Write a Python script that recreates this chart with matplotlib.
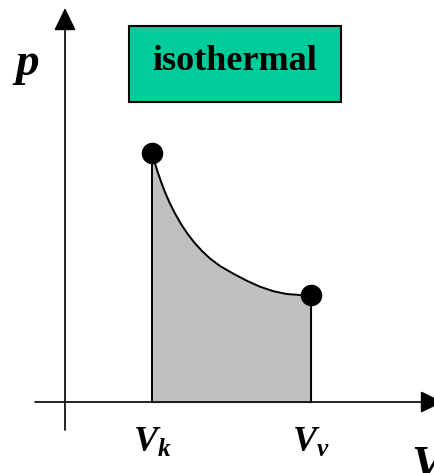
import matplotlib
matplotlib.use("Agg")
import matplotlib.pyplot as plt
from matplotlib.patches import FancyArrowPatch, Rectangle

# Isothermal curve (V, p) in arbitrary units
curve_V = [87, 90.3, 93, 96.3, 99.7, 104.7, 109.7, 116.3, 123, 129.7, 137, 145,
           155, 168, 181.7, 195, 208.3, 221.7, 235, 246]
curve_p = [249, 237.5, 229, 219.5, 210.5, 199, 189, 177.5, 167.5, 159, 151, 143.5,
           136, 128.5, 121.3, 115.3, 110.8, 108, 107, 107]
V_k, V_v = 87, 246
p_k, p_v = 249, 107
state_labels = [r"$\boldsymbol{V_k}$", r"$\boldsymbol{V_v}$"]
title_text = "isothermal"

plt.rcParams['mathtext.fontset'] = 'custom'
plt.rcParams['mathtext.it'] = 'Liberation Serif:italic:bold'
plt.rcParams['mathtext.bf'] = 'Liberation Serif:italic:bold'
plt.rcParams['mathtext.rm'] = 'Liberation Serif:bold'

fig = plt.figure(figsize=(4.35, 4.73), dpi=100)
ax = fig.add_axes([0, 0, 1, 1])
ax.set_xlim(-65, 370)
ax.set_ylim(-71, 402)
ax.axis('off')

# shaded work area
ax.fill_between(curve_V, curve_p, 0, color='#C0C0C0', zorder=1)
ax.plot(curve_V, curve_p, color='black', lw=1.4, zorder=3, solid_joinstyle='round')
ax.plot([V_k, V_k], [0, p_k], color='black', lw=1.4, zorder=3)
ax.plot([V_v, V_v], [0, p_v], color='black', lw=1.4, zorder=3)
ax.plot([V_k, V_v], [p_k, p_v], 'o', color='black', ms=14.5, zorder=4)

# axes with arrows
ya = FancyArrowPatch((0, -28), (0, 394), arrowstyle='-|>,head_length=14,head_width=6.8',
                     mutation_scale=1, shrinkA=0, shrinkB=0, color='black', lw=1.2, zorder=2)
xa = FancyArrowPatch((-30, 0), (378, 0), arrowstyle='-|>,head_length=14,head_width=6.8',
                     mutation_scale=1, shrinkA=0, shrinkB=0, color='black', lw=1.2, zorder=2)
ax.add_patch(ya)
ax.add_patch(xa)

# title box
ax.add_patch(Rectangle((64, 300), 212, 76, facecolor='#00CC99', edgecolor='black', lw=1.5, zorder=2))
ax.text(170, 340, title_text, ha='center', va='center', fontsize=26,
        family='Liberation Serif', weight='bold', zorder=5)

# axis labels
ax.text(-38, 338, 'p', ha='center', va='center', fontsize=34,
        family='Liberation Serif', weight='bold', style='italic')
ax.text(362, -64, 'V', ha='center', va='center', fontsize=34,
        family='Liberation Serif', weight='bold', style='italic')
ax.text(V_k, -40, state_labels[0], ha='center', va='center', fontsize=26)
ax.text(V_v, -40, state_labels[1], ha='center', va='center', fontsize=26)

fig.savefig('out.png', dpi=100)
